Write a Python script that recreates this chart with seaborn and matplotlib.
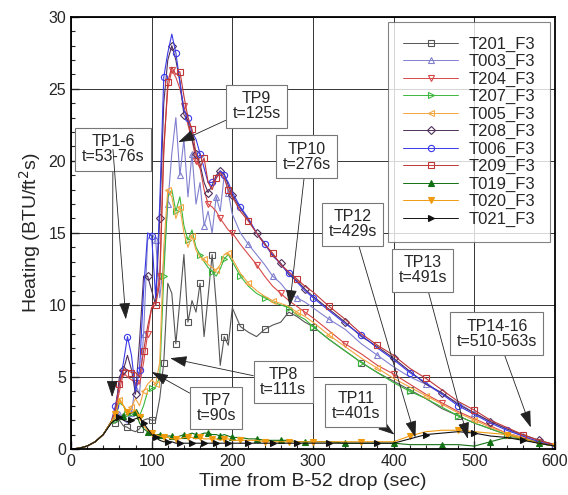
import matplotlib
matplotlib.use("Agg")
import matplotlib.pyplot as plt
import seaborn as sns
from matplotlib.ticker import MultipleLocator

# time axis shared by every gauge (sec after B-52 drop)
time_s = [0, 10, 20, 30, 40, 50, 55, 60, 65, 70, 75, 80, 85, 90, 95, 100, 105, 110, 115, 120,
          125, 130, 135, 140, 145, 150, 155, 160, 165, 170, 175, 180, 185, 190, 195, 200,
          210, 220, 230, 240, 250, 260, 270, 280, 290, 300, 320, 340, 360, 380, 400, 420,
          440, 460, 480, 500, 520, 540, 560, 580, 600]

# heating values (BTU/ft^2 s)
T201_F3 = [0, 0.05, 0.2, 0.5, 1.0, 1.8, 1.8, 2.0, 1.6, 1.5, 1.3, 1.2, 1.4, 2.0, 2.1, 2.0, 2.0, 3.5,
           6.0, 11.5, 10.8, 7.3, 10.3, 13.5, 8.8, 10.3, 9.5, 11.5, 7.8, 10.6, 13.5, 10.1, 5.8, 7.8,
           7.2, 9.8, 8.5, 8.1, 7.8, 8.3, 8.6, 8.8, 9.5, 9.2, 8.8, 8.5, 7.6, 6.8, 6.0, 5.3, 4.7,
           4.1, 3.5, 2.8, 2.3, 1.8, 1.4, 1.0, 0.7, 0.4, 0.2]
T003_F3 = [0, 0.05, 0.2, 0.5, 1.0, 1.9, 2.2, 2.4, 2.0, 1.8, 2.5, 4.5, 3.8, 8.0, 14.5, 15.0, 14.5,
           10.5, 13.0, 17.0, 20.5, 23.0, 19.0, 21.5, 17.5, 20.5, 17.0, 18.5, 15.5, 16.5, 15.0,
           17.5, 16.5, 19.0, 17.8, 16.3, 15.0, 14.2, 13.5, 12.8, 12.0, 11.5, 10.8, 10.5, 10.2,
           9.8, 9.0, 8.3, 7.3, 6.5, 5.7, 5.0, 4.5, 3.8, 3.2, 2.5, 1.9, 1.4, 0.9, 0.5, 0.3]
T204_F3 = [0, 0.05, 0.2, 0.5, 1.0, 1.9, 2.6, 4.0, 5.3, 5.0, 4.8, 4.6, 4.5, 6.0, 8.0, 9.8, 10.3,
           12.0, 21.0, 25.0, 26.3, 25.8, 25.0, 23.8, 22.5, 21.5, 20.0, 19.5, 18.0, 17.0, 16.8,
           16.5, 16.0, 15.6, 15.2, 15.0, 14.2, 13.5, 12.8, 12.0, 11.3, 10.8, 10.3, 9.9, 9.5,
           9.1, 8.2, 7.3, 6.6, 5.8, 5.2, 4.5, 3.8, 3.2, 2.6, 2.1, 1.6, 1.1, 0.8, 0.5, 0.3]
T207_F3 = [0, 0.05, 0.2, 0.5, 1.0, 1.9, 2.0, 3.2, 3.0, 2.4, 2.3, 2.6, 2.3, 3.0, 4.0, 4.2, 4.3,
           5.0, 12.0, 17.5, 18.0, 16.5, 17.5, 15.5, 14.5, 15.2, 14.0, 13.5, 13.0, 12.6, 12.3,
           12.0, 12.5, 13.2, 13.5, 13.0, 12.0, 11.3, 10.8, 10.5, 10.2, 10.0, 9.8, 9.3, 9.0,
           8.5, 7.6, 6.8, 6.0, 5.3, 4.6, 4.0, 3.5, 2.9, 2.3, 1.8, 1.4, 1.0, 0.7, 0.4, 0.2]
T005_F3 = [0, 0.05, 0.2, 0.5, 1.0, 1.9, 2.1, 3.4, 3.0, 2.6, 2.9, 3.5, 3.0, 4.0, 4.5, 4.8, 4.5,
           6.0, 14.0, 18.0, 17.5, 16.0, 16.8, 15.0, 14.0, 14.8, 13.8, 13.3, 13.2, 12.8, 12.6,
           12.4, 12.8, 13.5, 13.6, 13.2, 12.2, 11.5, 11.0, 10.6, 10.3, 10.1, 9.9, 9.5, 9.2,
           8.8, 7.9, 7.1, 6.3, 5.6, 4.9, 4.3, 3.7, 3.1, 2.5, 2.0, 1.5, 1.1, 0.8, 0.5, 0.2]
T208_F3 = [0, 0.05, 0.2, 0.5, 1.0, 1.9, 2.5, 5.0, 5.5, 6.5, 5.5, 3.8, 7.5, 12.0, 12.0, 11.0, 10.0,
           16.0, 24.0, 27.0, 28.0, 27.0, 25.5, 23.2, 22.8, 21.5, 20.5, 19.8, 18.5, 17.8, 18.3,
           19.0, 19.3, 19.1, 18.3, 17.6, 16.7, 15.9, 15.0, 14.3, 13.4, 12.9, 12.1, 11.7, 11.1,
           10.6, 9.7, 8.8, 7.8, 7.1, 6.3, 5.4, 4.5, 3.9, 3.1, 2.5, 1.9, 1.4, 1.0, 0.6, 0.3]
T006_F3 = [0, 0.05, 0.2, 0.5, 1.0, 1.9, 3.0, 4.5, 6.0, 7.8, 6.5, 4.0, 5.5, 11.0, 15.0, 14.8, 10.5,
           17.0, 25.8, 27.5, 28.8, 27.5, 25.5, 23.5, 23.0, 22.0, 21.5, 20.5, 19.5, 18.5, 18.5,
           18.8, 19.3, 19.0, 18.5, 17.8, 16.8, 16.0, 15.0, 14.2, 13.5, 12.8, 12.2, 11.6, 11.0,
           10.5, 9.6, 8.7, 7.9, 7.0, 6.2, 5.3, 4.6, 3.8, 3.0, 2.4, 1.8, 1.3, 0.9, 0.5, 0.2]
T209_F3 = [0, 0.05, 0.2, 0.5, 1.0, 1.9, 2.8, 4.5, 5.5, 5.5, 5.3, 5.3, 5.0, 6.8, 8.5, 9.8, 10.0,
           11.5, 20.5, 25.5, 26.5, 26.0, 26.2, 24.5, 23.0, 22.2, 20.5, 19.5, 20.2, 18.5, 18.0,
           18.8, 19.2, 18.8, 18.0, 17.5, 16.5, 15.8, 15.0, 14.2, 13.6, 12.8, 12.3, 11.8, 11.3,
           10.9, 9.9, 9.0, 8.0, 7.2, 6.5, 5.6, 4.9, 4.1, 3.3, 2.7, 2.0, 1.5, 1.0, 0.6, 0.3]
T019_F3 = [0, 0.05, 0.2, 0.5, 1.0, 1.9, 2.0, 2.2, 2.3, 2.4, 2.5, 2.6, 1.8, 1.4, 1.2, 1.1, 1.0,
           1.0, 0.9, 0.9, 0.9, 0.8, 0.9, 1.0, 1.0, 1.1, 1.0, 1.0, 1.1, 1.1, 1.0, 1.0, 0.9, 1.0,
           0.9, 0.8, 0.8, 0.7, 0.7, 0.6, 0.6, 0.6, 0.6, 0.5, 0.5, 0.5, 0.5, 0.4, 0.4, 0.4, 0.4,
           0.3, 0.3, 0.3, 0.3, 0.2, 0.5, 0.8, 0.7, 0.4, 0.2]
T020_F3 = [0, 0.05, 0.2, 0.5, 1.0, 1.9, 2.4, 3.5, 3.0, 2.6, 2.5, 2.7, 2.2, 1.6, 1.3, 1.1, 1.0,
           0.9, 0.8, 0.8, 0.7, 0.7, 0.7, 0.8, 0.8, 0.8, 0.7, 0.8, 0.7, 0.7, 0.7, 0.7, 0.6, 0.7,
           0.7, 0.6, 0.6, 0.6, 0.6, 0.5, 0.5, 0.5, 0.5, 0.5, 0.5, 0.5, 0.5, 0.5, 0.5, 0.5, 0.5,
           0.9, 1.2, 1.3, 1.3, 1.2, 1.1, 1.0, 0.7, 0.4, 0.2]
T021_F3 = [0, 0.05, 0.2, 0.5, 1.0, 1.8, 2.0, 2.2, 2.0, 1.9, 2.0, 2.1, 2.2, 1.8, 1.4, 1.0, 0.8,
           0.6, 0.5, 0.5, 0.5, 0.4, 0.4, 0.4, 0.4, 0.4, 0.4, 0.4, 0.4, 0.4, 0.4, 0.4, 0.4, 0.4,
           0.4, 0.4, 0.4, 0.4, 0.4, 0.4, 0.4, 0.4, 0.4, 0.4, 0.4, 0.4, 0.4, 0.4, 0.4, 0.4, 0.4,
           0.7, 1.0, 1.1, 1.2, 1.1, 0.9, 0.8, 0.6, 0.4, 0.2]

series_names = ["T201_F3", "T003_F3", "T204_F3", "T207_F3", "T005_F3", "T208_F3",
                "T006_F3", "T209_F3", "T019_F3", "T020_F3", "T021_F3"]
series_vals = [T201_F3, T003_F3, T204_F3, T207_F3, T005_F3, T208_F3,
               T006_F3, T209_F3, T019_F3, T020_F3, T021_F3]

# test point callouts: label, arrow targets (t, q), box centre (t, q)
callouts = [
    ("TP1-6\nt=53-76s", [(51, 3.6), (68, 9.0)], (52, 20.8)),
    ("TP9\nt=125s", [(133, 21.3)], (230, 23.8)),
    ("TP10\nt=276s", [(271, 9.9)], (292, 20.3)),
    ("TP12\nt=429s", [(427, 0.8)], (349, 15.6)),
    ("TP13\nt=491s", [(492, 0.7)], (436, 12.4)),
    ("TP14-16\nt=510-563s", [(570, 1.5)], (528, 8.0)),
    ("TP11\nt=401s", [(401, 1.0)], (353, 3.0)),
    ("TP8\nt=111s", [(123, 6.3)], (263, 4.65)),
    ("TP7\nt=90s", [(100, 5.35)], (180, 2.85)),
]

sns.set_style("white")
plt.rcParams["font.family"] = ["Liberation Sans", "DejaVu Sans"]

colors = ["#555555", "#8080d0", "#d84848", "#3cb83c", "#f4a640", "#50305a",
          "#3a3ae6", "#c03838", "#137013", "#f09a10", "#111111"]
markers = ["s", "^", "v", ">", "<", "D", "o", "s", "^", "v", ">"]
filled = [False] * 8 + [True] * 3

fig, ax = plt.subplots(figsize=(5.68, 4.95), dpi=100)
fig.subplots_adjust(left=0.125, right=0.977, bottom=0.093, top=0.966)

for i, (name, vals) in enumerate(zip(series_names, series_vals)):
    sns.lineplot(x=time_s, y=vals, ax=ax, color=colors[i], lw=0.8,
                 marker=markers[i], markersize=4.5 if markers[i] != "D" else 4,
                 markerfacecolor=colors[i] if filled[i] else "none",
                 markeredgecolor=colors[i], markeredgewidth=0.8,
                 markevery=(6 + i % 3, 3), estimator=None, sort=False, label=name)

ax.set_xlim(0, 600)
ax.set_ylim(0, 30)
ax.xaxis.set_major_locator(MultipleLocator(100))
ax.xaxis.set_minor_locator(MultipleLocator(20))
ax.yaxis.set_major_locator(MultipleLocator(5))
ax.yaxis.set_minor_locator(MultipleLocator(1))
ax.grid(True, which="major", color="#333333", lw=0.7)
ax.tick_params(which="both", direction="in", bottom=True, left=True, labelsize=11.5)
ax.tick_params(which="major", length=6, width=1)
ax.tick_params(which="minor", length=3, width=0.8)
for sp in ax.spines.values():
    sp.set_color("black")
    sp.set_linewidth(1.3)

ax.set_xlabel("Time from B-52 drop (sec)", fontsize=14, labelpad=3)
ax.set_ylabel("Heating (BTU/ft$^2$s)", fontsize=14, labelpad=4)

for text, targets, box in callouts:
    for k, tgt in enumerate(targets):
        ax.annotate(text if k == 0 else "", xy=tgt, xytext=box,
                    ha="center", va="center", fontsize=11.5, linespacing=1.0,
                    bbox=dict(boxstyle="square,pad=0.4", fc="white", ec="#777777", lw=0.8)
                    if k == 0 else None,
                    arrowprops=dict(arrowstyle="-|>,head_length=0.9,head_width=0.3",
                                    color="#222222", lw=0.6, shrinkA=0, shrinkB=0),
                    zorder=5)

leg = ax.legend(loc="upper right", fontsize=12, handlelength=3.3, labelspacing=0.14,
                borderaxespad=0.3, frameon=True, fancybox=False, borderpad=0.9,
                handletextpad=0.6, numpoints=1)
leg.get_frame().set_edgecolor("#666666")
leg.get_frame().set_linewidth(0.8)
for h in leg.legend_handles:
    h.set_markevery([1])
    h.set_linewidth(0.7)

fig.savefig("out.png", dpi=100)
